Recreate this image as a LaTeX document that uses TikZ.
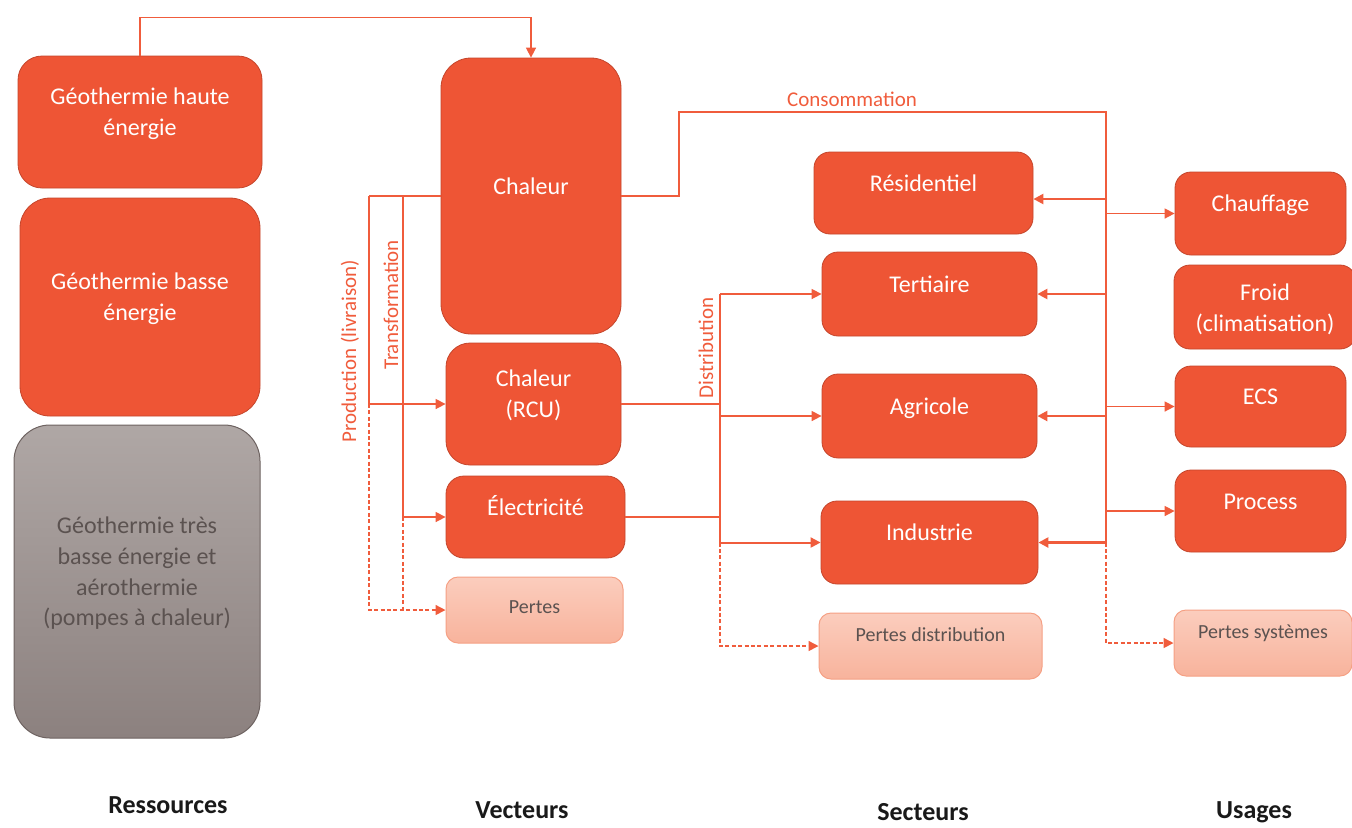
\documentclass[tikz,border=0pt]{standalone}
\usepackage{fontspec}
\setmainfont{Carlito}
\usetikzlibrary{arrows.meta}
\definecolor{Flame}{HTML}{EE5535}
\definecolor{FlameEdge}{HTML}{C4452B}
\definecolor{FlameLine}{HTML}{F05C3C}
\definecolor{PeachTop}{HTML}{FBCDBD}
\definecolor{PeachBottom}{HTML}{F8B39C}
\definecolor{PeachEdge}{HTML}{F5A084}
\definecolor{AshTop}{HTML}{AFA7A5}
\definecolor{AshBottom}{HTML}{8C817F}
\definecolor{AshEdge}{HTML}{6E6361}
\definecolor{AshText}{HTML}{5B5250}

% text block lifted a little above the box centre
\newcommand{\lift}[2][4pt]{\raisebox{#1}[\height][\depth]{\begin{tabular}{@{}c@{}}#2\end{tabular}}}
\renewcommand{\arraystretch}{1.07}

\tikzset{
	flamebox/.style={fill=Flame, draw=FlameEdge, line width=0.4pt, rounded corners=#1, inner sep=0pt, text=white, font=\fontsize{12}{14.4}\selectfont},
	flamebox/.default=8pt,
	peachbox/.style={top color=PeachTop, bottom color=PeachBottom, draw=PeachEdge, line width=0.5pt, rounded corners=6pt, inner sep=0pt, text=AshText, font=\fontsize{10}{12}\selectfont},
	ashbox/.style={top color=AshTop, bottom color=AshBottom, draw=AshEdge, line width=0.5pt, rounded corners=18pt, inner sep=0pt, text=AshText, font=\fontsize{12}{14.4}\selectfont},
	wire/.style={draw=FlameLine, line width=0.75pt},
	flow/.style={wire, -{Triangle[length=5pt,width=5pt]}},
	busline/.style={wire, line width=1.2pt},
	busflow/.style={flow, line width=1.2pt},
	losswire/.style={wire, dash pattern=on 2pt off 1.2pt},
	lossflow/.style={flow, dash pattern=on 2pt off 1.2pt},
	steplabel/.style={text=FlameLine, font=\fontsize{10.5}{12}\selectfont, inner sep=0.75pt},
	columntitle/.style={text=black!90, font=\fontsize{13}{15}\selectfont\bfseries, inner sep=0.75pt}
}

\begin{document}
\begin{tikzpicture}[x=0.5pt,y=0.5pt,yscale=-1,xscale=1]
		\useasboundingbox (0,0) rectangle (1352,827);

		% Ressources
		\node[flamebox=12pt, minimum width=122pt, minimum height=66pt] (geoHaute) at (140,122) {\lift{Géothermie haute\\énergie}};
		\node[flamebox=15pt, minimum width=120pt, minimum height=109pt] (geoBasse) at (140,307) {\lift{Géothermie basse\\énergie}};
		\node[ashbox, minimum width=123pt, minimum height=156.5pt] (geoTbe) at (137,581.5) {\lift{Géothermie très\\basse énergie et\\aérothermie\\(pompes à chaleur)}};

		% Vecteurs
		\node[flamebox=15pt, minimum width=90pt, minimum height=138pt] (chaleur) at (531,196) {\lift{Chaleur}};
		\node[flamebox=12pt, minimum width=87.5pt, minimum height=61pt] (rcu) at (533.5,404) {\lift{Chaleur\\(RCU)}};
		\node[flamebox=9pt, minimum width=89.5pt, minimum height=41pt] (elec) at (535.5,517) {\lift{Électricité}};
		\node[peachbox, minimum width=88.5pt, minimum height=33pt] (pertes) at (534.5,610) {\lift[1pt]{Pertes}};

		% Secteurs
		\node[flamebox, minimum width=109.5pt, minimum height=41pt] (resid) at (923.5,193) {\lift{Résidentiel}};
		\node[flamebox, minimum width=107.5pt, minimum height=42pt] (tert) at (929.5,294) {\lift{Tertiaire}};
		\node[flamebox, minimum width=107.5pt, minimum height=42pt] (agri) at (929.5,416) {\lift{Agricole}};
		\node[flamebox, minimum width=108.5pt, minimum height=41.5pt] (indus) at (929.5,542.5) {\lift{Industrie}};
		\node[peachbox, minimum width=111.5pt, minimum height=33pt] (pertesDist) at (930.5,646) {\lift[5pt]{Pertes distribution}};

		% Usages
		\node[flamebox, minimum width=85.5pt, minimum height=41.5pt] (chauf) at (1260.5,213.5) {\lift{Chauffage}};
		\node[flamebox, minimum width=91pt, minimum height=42pt] (froid) at (1265,307) {\lift[-1.5pt]{Froid\\(climatisation)}};
		\node[flamebox, minimum width=85.5pt, minimum height=40.5pt] (ecs) at (1260.5,406.5) {\lift{ECS}};
		\node[flamebox, minimum width=85.5pt, minimum height=41pt] (process) at (1260.5,511) {\lift{Process}};
		\node[peachbox, minimum width=89pt, minimum height=33pt] (pertesSys) at (1263,643) {\lift[5pt]{Pertes systèmes}};

		% Step labels along the connectors
		\node[steplabel] (consLbl) at (852,99) {Consommation};
		\node[steplabel, rotate=90] (prodLbl) at (350,351) {Production (livraison)};
		\node[steplabel, rotate=90] (transLbl) at (391,305) {Transformation};
		\node[steplabel, rotate=90] (distLbl) at (706,348) {Distribution};

		% Column titles
		\node[columntitle] (titleRes) at (168,805) {Ressources};
		\node[columntitle] (titleVec) at (522,810) {Vecteurs};
		\node[columntitle] (titleSec) at (923,812) {Secteurs};
		\node[columntitle] (titleUse) at (1254,812) {Usages};

		% Geothermie haute energie feeds the heat directly
		\draw[flow] (geoHaute.north) -- ++(0,-38) -| (chaleur.north);

		% Production and transformation from the heat
		\coordinate (prodTop) at (369,196);
		\coordinate (transTop) at (403,196);
		\draw[wire] (chaleur.west) -- (prodTop);
		\draw[flow] (prodTop) |- (rcu.west);
		\draw[flow] (transTop) |- (elec.west);
		\draw[lossflow] (prodTop |- rcu.west) |- (pertes.west);
		\draw[losswire] (transTop |- elec.west) -- (transTop |- pertes.west);

		% Distribution towards the sectors
		\coordinate (distBus) at (720,405);
		\draw[wire] (rcu.east) -- (distBus |- rcu.east);
		\draw[wire] (elec.east) -- (distBus |- elec.east);
		\draw[wire] (distBus |- tert.west) -- (distBus |- indus.west);
		\draw[flow] (distBus |- tert.west) -- (tert.west);
		\draw[flow] (distBus |- agri.west) -- (agri.west);
		\draw[flow, line width=1pt] (distBus |- indus.west) -- (indus.west);
		\draw[lossflow] (distBus |- indus.west) |- (pertesDist.west);

		% Consommation bus between sectors and uses
		\coordinate (consBend) at (679,112);
		\coordinate (consBus) at (1106,112);
		\coordinate (residIn) at ([yshift=3pt]resid.east);
		\draw[wire] (chaleur.east) -| (consBend) -- (consBus) -- (consBus |- residIn);
		\draw[busline] (consBus |- residIn) -- (consBus |- indus.east);
		\draw[busflow] (consBus |- residIn) -- (residIn);
		\draw[busflow] (consBus |- tert.east) -- (tert.east);
		\draw[busflow] (consBus |- agri.east) -- (agri.east);
		\draw[busflow] (consBus |- indus.east) -- (indus.east);
		\draw[flow] (consBus |- chauf.west) -- (chauf.west);
		\draw[flow] (consBus |- ecs.west) -- (ecs.west);
		\draw[flow] (consBus |- process.west) -- (process.west);
		\draw[lossflow] (consBus |- indus.east) |- (pertesSys.west);
	\end{tikzpicture}
\end{document}
